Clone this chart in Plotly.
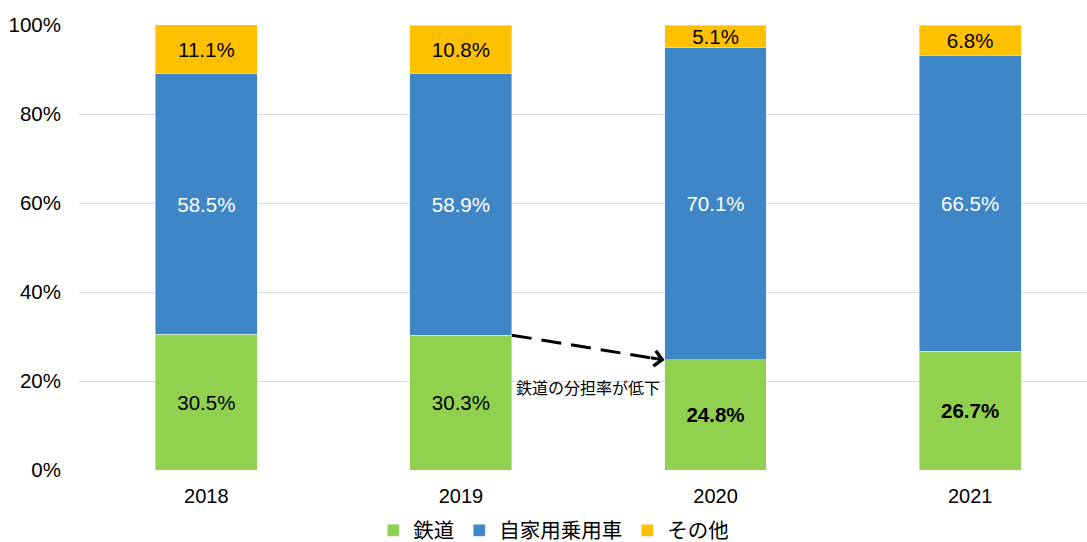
import plotly.graph_objects as go

years = ["2018", "2019", "2020", "2021"]
rail = [30.5, 30.3, 24.8, 26.7]
car = [58.5, 58.9, 70.1, 66.5]
other = [11.1, 10.8, 5.1, 6.8]
rail_bold = [False, False, True, True]
series_names = ["鉄道", "自家用乗用車", "その他"]
annotation_text = "鉄道の分担率が低下"
y_ticks = [0, 20, 40, 60, 80, 100]

FONT = "Liberation Sans, Arial, Noto Sans CJK JP, sans-serif"
GREEN = "#92D050"
BLUE = "#3F86C7"
ORANGE = "#FFC000"
LABEL_SIZE = 20.5


def labels(vals, bold=None):
    out = []
    for i, v in enumerate(vals):
        s = f"{v:.1f}%"
        if bold and bold[i]:
            s = f"<b>{s}</b>"
        out.append(s)
    return out


fig = go.Figure()
common = dict(width=0.4, textposition="inside", insidetextanchor="middle",
              constraintext="none", textangle=0, hoverinfo="skip")
fig.add_trace(go.Bar(x=years, y=rail, name=series_names[0], marker_color=GREEN,
                     text=labels(rail, rail_bold),
                     textfont=dict(color="#000000", size=LABEL_SIZE, family=FONT), **common))
fig.add_trace(go.Bar(x=years, y=car, name=series_names[1], marker_color=BLUE,
                     text=labels(car),
                     textfont=dict(color="#FFFFFF", size=LABEL_SIZE, family=FONT), **common))
fig.add_trace(go.Bar(x=years, y=other, name=series_names[2], marker_color=ORANGE,
                     text=labels(other),
                     textfont=dict(color="#000000", size=LABEL_SIZE, family=FONT), **common))

# dashed arrow from 2019 rail top to 2020 rail top
x0, y0 = 1.2, rail[1]
x1, y1 = 1.8, rail[2] - 0.1
fig.add_shape(type="line", xref="x", yref="y", x0=x0, y0=y0,
              x1=x0 + (x1 - x0) * 0.95, y1=y0 + (y1 - y0) * 0.95,
              line=dict(color="#000000", width=3, dash="20px,10px"))
fig.add_annotation(x=x1, y=y1, ax=x0 + (x1 - x0) * 0.9, ay=y0 + (y1 - y0) * 0.9,
                   xref="x", yref="y", axref="x", ayref="y", text="",
                   showarrow=True, arrowhead=4, arrowsize=1, arrowwidth=3,
                   arrowcolor="#000000", standoff=0)
fig.add_annotation(x=1.5, y=(rail[1] + rail[2]) / 2 - 9.2, xref="x", yref="y",
                   text=annotation_text, showarrow=False,
                   font=dict(size=16, color="#000000", family=FONT))

fig.update_layout(
    barmode="stack",
    width=1087, height=542,
    margin=dict(l=79, r=0, t=25, b=72, autoexpand=False),
    paper_bgcolor="#FFFFFF", plot_bgcolor="#FFFFFF",
    font=dict(family=FONT, size=20, color="#000000"),
    showlegend=True,
    legend=dict(orientation="h", x=0.471, xanchor="center", y=-0.136, yanchor="middle",
                font=dict(size=20.5, family=FONT), traceorder="normal",
                itemwidth=30, bgcolor="rgba(0,0,0,0)"),
    xaxis=dict(type="category", range=[-0.5, 3.459], showgrid=False, zeroline=False,
               showline=False, ticks="", tickfont=dict(size=20), ticklabelstandoff=12),
    yaxis=dict(range=[0, 100], tickvals=y_ticks, ticktext=[f"{t}%" for t in y_ticks],
               showgrid=True, gridcolor="#D9D9D9", gridwidth=1, zeroline=False,
               showline=False, ticks="", ticklabelstandoff=17, tickfont=dict(size=20.5)),
)

fig.write_html("out.html", config={"displayModeBar": False},
               post_script="document.body.style.margin='0';document.body.style.overflow='hidden';")
